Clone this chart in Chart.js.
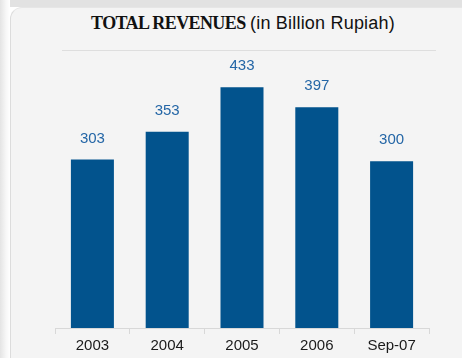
<!DOCTYPE html>
<html>
<head>
<meta charset="utf-8">
<script src="https://cdn.jsdelivr.net/npm/chart.js@4"></script>
<style>
  html, body { margin: 0; padding: 0; background: #fff; }
  #wrap { position: relative; width: 462px; height: 358px; overflow: hidden; }
  /* grey band and light panel behind the chart */
  #band { position: absolute; left: 0; top: 0; width: 462px; height: 7px; background: #e2e2e2; }
  #edge { position: absolute; left: 0; top: 0; width: 10px; height: 358px;
          background: linear-gradient(90deg, #e4e4e4, #f7f7f7 60%, #ffffff); }
  #panel { position: absolute; left: 10px; top: 7px; right: -4px; bottom: -4px;
           background: #f4f4f4; border-left: 1px solid #dcdcdc; border-top: 1px solid #e6e6e6;
           border-top-left-radius: 12px; }
  #title { position: absolute; left: 0; top: 13px; width: 486px; text-align: center;
           font-size: 18px; color: #111; white-space: nowrap; }
  #title b { font-family: "Liberation Serif", "DejaVu Serif", serif; letter-spacing: -0.6px; }
  #title span { font-family: "Liberation Sans", Arial, sans-serif; letter-spacing: 0.2px; }
  canvas { position: absolute; left: 0; top: 0; }
</style>
</head>
<body>
<div id="wrap">
  <div id="band"></div>
  <div id="edge"></div>
  <div id="panel"></div>
  <div id="title"><b>TOTAL REVENUES</b> <span>(in Billion Rupiah)</span></div>
  <canvas id="revChart" width="462" height="358"></canvas>
</div>
<script>
// Revenues per period, billion Rupiah
const periods = ["2003", "2004", "2005", "2006", "Sep-07"];
const revenues = [303, 353, 433, 397, 300];
const axisMax = 500;

// Numbers above each bar
const valueLabels = {
  id: 'valueLabels',
  afterDatasetsDraw(chart) {
    const ctx = chart.ctx;
    const meta = chart.getDatasetMeta(0);
    ctx.save();
    ctx.font = '15px "Liberation Sans", Arial, sans-serif';
    ctx.fillStyle = '#2466a6';
    ctx.textAlign = 'center';
    ctx.textBaseline = 'alphabetic';
    meta.data.forEach((bar, i) => {
      ctx.fillText(revenues[i], bar.x, bar.y - 17);
    });
    ctx.restore();
  }
};

// Thin rule under the title, sitting on the top value of the scale
const topRule = {
  id: 'topRule',
  beforeDatasetsDraw(chart) {
    const ctx = chart.ctx;
    const y = Math.round(chart.scales.y.getPixelForValue(axisMax)) + 0.5;
    const area = chart.chartArea;
    ctx.save();
    ctx.strokeStyle = '#dedede';
    ctx.lineWidth = 1;
    ctx.beginPath();
    ctx.moveTo(area.left + 7, y);
    ctx.lineTo(area.right + 7, y);
    ctx.stroke();
    ctx.restore();
  }
};

new Chart(document.getElementById('revChart').getContext('2d'), {
  type: 'bar',
  data: {
    labels: periods,
    datasets: [{
      data: revenues,
      backgroundColor: '#02538d',
      borderWidth: 0,
      categoryPercentage: 1,
      barPercentage: 0.575
    }]
  },
  options: {
    responsive: false,
    animation: false,
    layout: { padding: { left: 55, right: 33, top: 50, bottom: 0 } },
    plugins: {
      legend: { display: false },
      title: { display: false },
      tooltip: { enabled: false }
    },
    scales: {
      x: {
        grid: { offset: true, drawOnChartArea: false, tickLength: 6, color: '#d8d8d8' },
        border: { color: '#d8d8d8', width: 1 },
        ticks: {
          padding: 3,
          color: '#1a1a1a',
          font: { family: '"Liberation Sans", Arial, sans-serif', size: 15 }
        }
      },
      y: {
        display: false,
        min: 0,
        max: axisMax
      }
    }
  },
  plugins: [valueLabels, topRule]
});
</script>
</body>
</html>
